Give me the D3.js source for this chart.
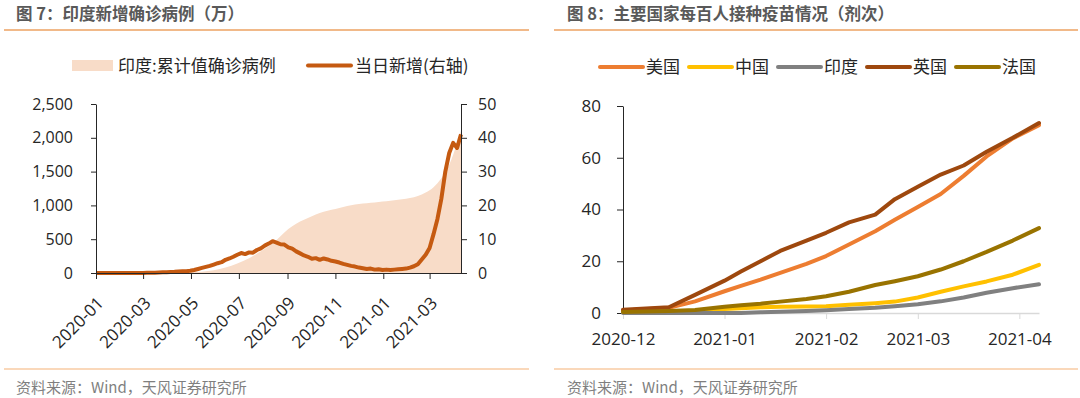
<!DOCTYPE html>
<html>
<head>
<meta charset="utf-8">
<script src="https://cdn.jsdelivr.net/npm/d3@7"></script>
<style>
  body { margin: 0; background: #fff; }
  svg text { font-family: "Open Sans", "Noto Sans CJK SC", sans-serif; }
</style>
</head>
<body>
<div id="chart"></div>
<script>
// ---- 图7: 印度 ----
// daily new cases (万), one value every 5 days from dailyStart
const dailyStart = '2020-01-01';
const dailyStep = 5;
const dailyNew = [
  0, 0, 0, 0, 0, 0, 0, 0, 0, 0,
  0, 0, 0, 0.05, 0.05, 0.1, 0.15, 0.2, 0.25, 0.3,
  0.35, 0.45, 0.5, 0.55, 0.65, 0.9, 1.2, 1.5, 1.8, 2.1,
  2.5, 2.9, 3.2, 3.9, 4.3, 4.8, 5.4, 5.9, 5.6, 6.1,
  6.0, 6.8, 7.3, 8.1, 8.7, 9.4, 9.0, 8.5, 8.4, 7.6,
  7.2, 6.4, 5.8, 5.2, 4.8, 4.2, 4.4, 3.9, 4.3, 4.0,
  3.6, 3.4, 3.1, 2.7, 2.4, 2.1, 1.9, 1.6, 1.4, 1.2,
  1.3, 1.0, 1.1, 0.9, 1.0, 0.9, 1.0, 1.1, 1.2, 1.3,
  1.6, 2.0, 2.6, 4.0, 5.4, 7.4, 11.5, 16.0, 22.0, 30.0,
  35.5, 38.5, 37.0, 41.0
];
// cumulative cases (万), days after dailyStart
const cumDays = [0, 60, 90, 120, 150, 165, 180, 195, 210, 220, 230, 240, 250, 260, 270, 280, 290, 300,
  310, 320, 330, 340, 350, 360, 370, 380, 390, 400, 410, 420, 430, 440, 450, 455, 460, 465];
const cumCases = [0, 0, 2, 10, 40, 80, 140, 220, 320, 400, 490, 600, 690, 760, 815, 865, 905, 935,
  962, 990, 1012, 1028, 1040, 1052, 1063, 1075, 1090, 1110, 1140, 1190, 1270, 1400, 1600, 1750, 1920, 2100];
const leftTicks = [0, 500, 1000, 1500, 2000, 2500];
const rightTicks = [0, 10, 20, 30, 40, 50];

// ---- 图8: 每百人接种 ----
const vaxDates = ['2020-12-01', '2020-12-15', '2020-12-23', '2021-01-01', '2021-01-06', '2021-01-12',
  '2021-01-18', '2021-01-26', '2021-02-01', '2021-02-08', '2021-02-16', '2021-02-22',
  '2021-03-01', '2021-03-08', '2021-03-15', '2021-03-22', '2021-03-30', '2021-04-07'];
const vaxUS = [1.0, 2.0, 4.5, 8.4, 10.5, 12.9, 15.5, 19.0, 22.0, 26.5, 31.6, 36.0, 41.0, 46.0, 53.0, 60.5, 67.5, 72.6];
const vaxCN = [0.3, 0.5, 0.8, 1.5, 1.8, 2.2, 2.4, 2.5, 2.6, 3.2, 3.8, 4.4, 6.0, 8.2, 10.3, 12.2, 14.8, 18.6];
const vaxIN = [0, 0, 0, 0, 0, 0.3, 0.5, 0.8, 1.1, 1.5, 2.0, 2.6, 3.4, 4.5, 6.0, 7.8, 9.6, 11.1];
const vaxUK = [1.3, 2.2, 7.0, 12.5, 16.0, 20.0, 24.0, 28.0, 31.0, 35.0, 38.0, 44.0, 48.8, 53.5, 57.0, 62.3, 67.7, 73.4];
const vaxFR = [0.4, 0.8, 1.2, 2.4, 3.0, 3.6, 4.4, 5.4, 6.5, 8.2, 10.8, 12.3, 14.2, 16.8, 20.0, 23.6, 28.0, 32.8];
const vaxNames = ['美国', '中国', '印度', '英国', '法国'];
const vaxColors = ['#ed7d31', '#ffc000', '#808080', '#9e480e', '#997300'];
const vaxTicks = [0, 20, 40, 60, 80];
const vaxMonths = ['2020-12-01', '2021-01-01', '2021-02-01', '2021-03-01', '2021-04-01'];

document.addEventListener('DOMContentLoaded', () => {

  const width = 1080;
  const height = 398;
  const parseDate = d3.timeParse('%Y-%m-%d');
  const textColor = '#262626';

  const svg = d3.select('#chart')
                .append('svg')
                .attr('width', width)
                .attr('height', height);

  // panel frames: title, rules, source
  const panels = [
    { x0: 4, x1: 529, tx: 16, title: '图 7：印度新增确诊病例（万）' },
    { x0: 554, x1: 1078, tx: 567, title: '图 8：主要国家每百人接种疫苗情况（剂次）' }
  ];
  panels.forEach((p) => {
    svg.append('text')
        .attr('x', p.tx)
        .attr('y', 20)
        .style('font-family', '"Noto Sans CJK SC", sans-serif')
        .style('font-size', '16.5px')
        .style('font-weight', 'bold')
        .attr('fill', '#595959')
        .text(p.title);
    svg.append('line')
        .attr('x1', p.x0).attr('x2', p.x1)
        .attr('y1', 30).attr('y2', 30)
        .attr('stroke', '#eda262')
        .attr('stroke-width', 1.5);
    svg.append('line')
        .attr('x1', p.x0).attr('x2', p.x1)
        .attr('y1', 369).attr('y2', 369)
        .attr('stroke', '#f9cba3')
        .attr('stroke-width', 1.5);
    svg.append('text')
        .attr('x', p.tx)
        .attr('y', 393)
        .style('font-family', '"Noto Sans CJK SC", sans-serif')
        .style('font-size', '15px')
        .attr('fill', '#7f7f7f')
        .text('资料来源：Wind，天风证券研究所');
  });

  // ================= left chart =================
  const start = parseDate(dailyStart);
  const dailyData = dailyNew.map((v, i) => ({ date: d3.timeDay.offset(start, i * dailyStep), value: v }));
  const cumData = cumDays.map((d, i) => ({ date: d3.timeDay.offset(start, d), value: cumCases[i] }));

  const x = d3.scaleTime()
              .domain([start, parseDate('2021-04-10')])
              .range([96, 461]);
  const yL = d3.scaleLinear().domain([0, 2500]).range([273, 104]);
  const yR = d3.scaleLinear().domain([0, 50]).range([273, 104]);

  const left = svg.append('g');

  left.append('path')
      .datum(cumData)
      .attr('fill', '#f8dcc8')
      .attr('d', d3.area()
                   .x((d) => x(d.date))
                   .y0(yL(0))
                   .y1((d) => yL(d.value))
                   .curve(d3.curveMonotoneX));

  left.append('path')
      .datum(dailyData)
      .attr('fill', 'none')
      .attr('stroke', '#c55a11')
      .attr('stroke-width', 4)
      .attr('stroke-linejoin', 'round')
      .attr('d', d3.line()
                   .x((d) => x(d.date))
                   .y((d) => yR(d.value)));

  const styleAxis = (g, color, size) => {
    g.selectAll('path, line').attr('stroke', color);
    g.selectAll('text')
      .attr('fill', textColor)
      .style('font-size', size + 'px');
  };

  left.append('g')
      .attr('transform', 'translate(96,0)')
      .call(d3.axisLeft(yL).tickValues(leftTicks).tickFormat(d3.format(','))
              .tickSize(5).tickSizeOuter(0).tickPadding(18))
      .call((g) => styleAxis(g, '#262626', 16));

  left.append('g')
      .attr('transform', 'translate(461,0)')
      .call(d3.axisRight(yR).tickValues(rightTicks)
              .tickSize(6).tickSizeOuter(0).tickPadding(11))
      .call((g) => styleAxis(g, '#262626', 16));

  const xAxisL = left.append('g')
      .attr('transform', 'translate(0,273)')
      .call(d3.axisBottom(x).ticks(d3.timeMonth.every(2)).tickFormat(d3.timeFormat('%Y-%m'))
              .tickSize(6).tickSizeOuter(0))
      .call((g) => styleAxis(g, '#262626', 17));
  xAxisL.selectAll('text')
      .attr('x', 0)
      .attr('y', 0)
      .attr('dy', '0.35em')
      .attr('text-anchor', 'end')
      .attr('transform', 'translate(4,27) rotate(-45)');

  // left legend
  svg.append('rect')
      .attr('x', 72).attr('y', 60)
      .attr('width', 41).attr('height', 11)
      .attr('fill', '#f8dcc8');
  svg.append('text')
      .attr('x', 118).attr('y', 71.5)
      .style('font-family', '"Noto Sans CJK SC", sans-serif')
      .style('font-size', '17px')
      .attr('fill', textColor)
      .text('印度:累计值确诊病例');
  svg.append('line')
      .attr('x1', 308).attr('x2', 351)
      .attr('y1', 65.5).attr('y2', 65.5)
      .attr('stroke', '#c55a11')
      .attr('stroke-width', 4)
      .attr('stroke-linecap', 'round');
  svg.append('text')
      .attr('x', 355).attr('y', 71.5)
      .style('font-family', '"Noto Sans CJK SC", sans-serif')
      .style('font-size', '17px')
      .attr('fill', textColor)
      .text('当日新增(右轴)');

  // ================= right chart =================
  const dates = vaxDates.map(parseDate);
  const vaxSeries = [vaxUS, vaxCN, vaxIN, vaxUK, vaxFR];

  const x2 = d3.scaleTime()
               .domain([parseDate('2020-12-01'), parseDate('2021-04-07')])
               .range([623, 1039]);
  const y2 = d3.scaleLinear().domain([0, 80]).range([313, 106]);

  const right = svg.append('g');

  const xAxisR = right.append('g')
      .attr('transform', 'translate(0,313)')
      .call(d3.axisBottom(x2).tickValues(vaxMonths.map(parseDate)).tickFormat(d3.timeFormat('%Y-%m'))
              .tickSize(6).tickSizeOuter(0).tickPadding(14))
      .call((g) => styleAxis(g, '#d9d9d9', 17));
  xAxisR.select('.domain').attr('stroke-width', 1.5);

  right.append('g')
      .attr('transform', 'translate(623,0)')
      .call(d3.axisLeft(y2).tickValues(vaxTicks)
              .tickSize(6).tickSizeOuter(0).tickPadding(16))
      .call((g) => styleAxis(g, '#262626', 17));

  const vaxLine = d3.line()
                    .x((d, i) => x2(dates[i]))
                    .y((d) => y2(d));

  right.selectAll('.vax')
      .data(vaxSeries)
      .enter()
      .append('path')
      .attr('class', 'vax')
      .attr('fill', 'none')
      .attr('stroke', (d, i) => vaxColors[i])
      .attr('stroke-width', 4)
      .attr('stroke-linejoin', 'round')
      .attr('stroke-linecap', 'round')
      .attr('d', vaxLine);

  // right legend
  const legendItem = svg.selectAll('.vax-legend')
                        .data(vaxNames)
                        .enter()
                        .append('g')
                        .attr('class', 'vax-legend')
                        .attr('transform', (d, i) => 'translate(' + (600 + i * 89) + ',67)');
  legendItem.append('line')
      .attr('x1', 0).attr('x2', 43)
      .attr('stroke', (d, i) => vaxColors[i])
      .attr('stroke-width', 4)
      .attr('stroke-linecap', 'round');
  legendItem.append('text')
      .attr('x', 46)
      .attr('y', 6)
      .style('font-family', '"Noto Sans CJK SC", sans-serif')
      .style('font-size', '17px')
      .attr('fill', textColor)
      .text((d) => d);

});
</script>
</body>
</html>
